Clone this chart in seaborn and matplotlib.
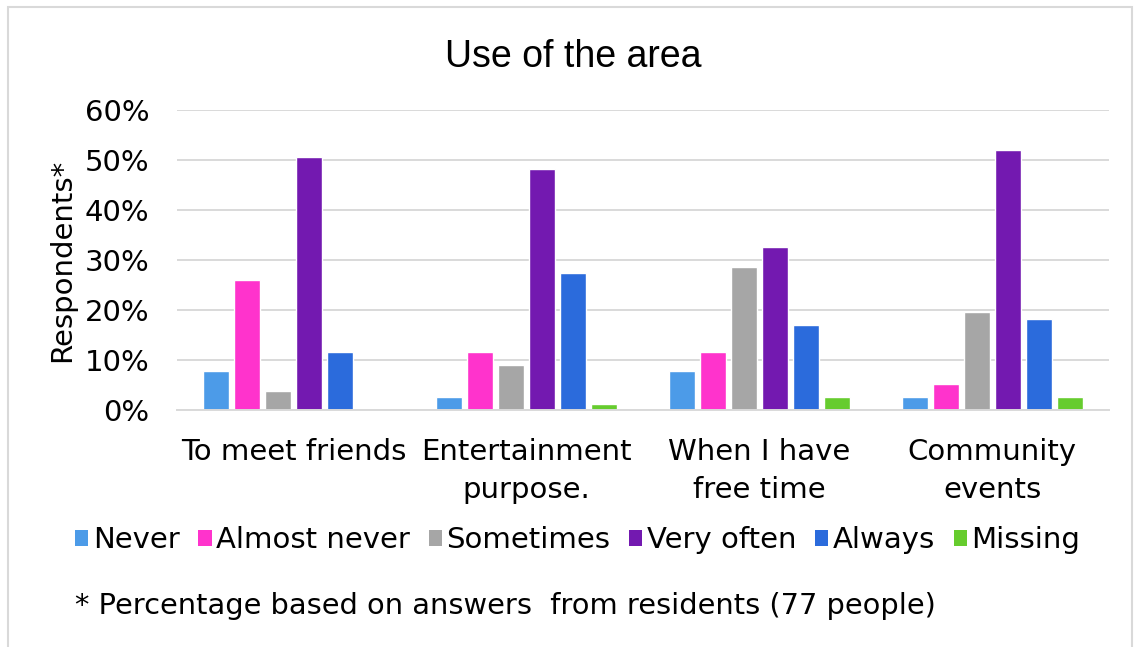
# Use of the area - grouped bar chart of survey answers

import matplotlib
matplotlib.use('Agg')
import matplotlib.pyplot as plt
import pandas as pd
import seaborn as sns
from matplotlib.patches import Patch, Rectangle
from matplotlib.ticker import PercentFormatter

# data (percent of 77 residents)
purposes = ['To meet friends', 'Entertainment\npurpose.', 'When I have\nfree time', 'Community\nevents']
answers = ['Never', 'Almost never', 'Sometimes', 'Very often', 'Always', 'Missing']
never = [7.8, 2.6, 7.8, 2.6]
almost_never = [26.0, 11.7, 11.7, 5.2]
sometimes = [3.9, 9.1, 28.6, 19.5]
very_often = [50.6, 48.1, 32.5, 51.9]
always = [11.7, 27.3, 16.9, 18.2]
missing = [0.0, 1.3, 2.6, 2.6]
colors = ['#4c9be8', '#ff33cc', '#a6a6a6', '#7319b0', '#2b6bdc', '#66cc2e']

# build long table for seaborn
series = [never, almost_never, sometimes, very_often, always, missing]
rows = []
for answer, values in zip(answers, series):
    for purpose, v in zip(purposes, values):
        rows.append({'Purpose': purpose, 'Answer': answer, 'Pct': v})
df = pd.DataFrame(rows)

sns.set_style('white')
plt.rcParams['font.family'] = ['DejaVu Sans']
plt.rcParams['text.color'] = 'black'

fig = plt.figure(figsize=(11.35, 6.47), dpi=100)
ax = fig.add_axes([0.156, 0.3663, 0.821, 0.4637])

sns.barplot(data=df, x='Purpose', y='Pct', hue='Answer',
            order=purposes, hue_order=answers,
            palette=dict(zip(answers, colors)),
            width=0.8, gap=0.17, saturation=1,
            legend=False, ax=ax)

ax.set_ylim(0, 60)
ax.set_yticks(range(0, 61, 10))
ax.yaxis.set_major_formatter(PercentFormatter(100, decimals=0))
ax.grid(axis='y', color='#d9d9d9', linewidth=1.4)
ax.set_axisbelow(True)
for side in ['left', 'right', 'top']:
    ax.spines[side].set_visible(False)
ax.spines['bottom'].set_color('#d9d9d9')
ax.spines['bottom'].set_linewidth(1.4)
ax.tick_params(axis='both', length=0, labelsize=21, colors='black')
ax.tick_params(axis='x', pad=20)
ax.tick_params(axis='y', pad=20)
for lbl in ax.get_xticklabels():
    lbl.set_linespacing(1.45)

ax.set_xlabel('')
ax.set_ylabel('Respondents*', fontsize=21, color='black')
ax.yaxis.set_label_coords(-0.108, 0.5)

# title centred on the chart box
fig.text(0.505, 0.8964, 'Use of the area', ha='center', va='baseline',
         fontsize=27, family='Liberation Sans')

# legend row
handles = [Patch(facecolor=c, edgecolor='none') for c in colors]
fig.legend(handles, answers, loc='center', bbox_to_anchor=(0.509, 0.165),
           ncol=6, frameon=False, fontsize=21, handlelength=0.45,
           handleheight=0.45, handletextpad=0.15, columnspacing=0.65,
           borderaxespad=0)

fig.text(75 / 1135, 0.051, '* Percentage based on answers  from residents (77 people)',
         ha='left', va='baseline', fontsize=20.8)

# light grey chart frame
fig.patches.append(Rectangle((8 / 1135, -0.02), 1124 / 1135, 1.009,
                             transform=fig.transFigure, fill=False,
                             edgecolor='#d9d9d9', linewidth=1.5))

fig.savefig('out.png', dpi=100)
